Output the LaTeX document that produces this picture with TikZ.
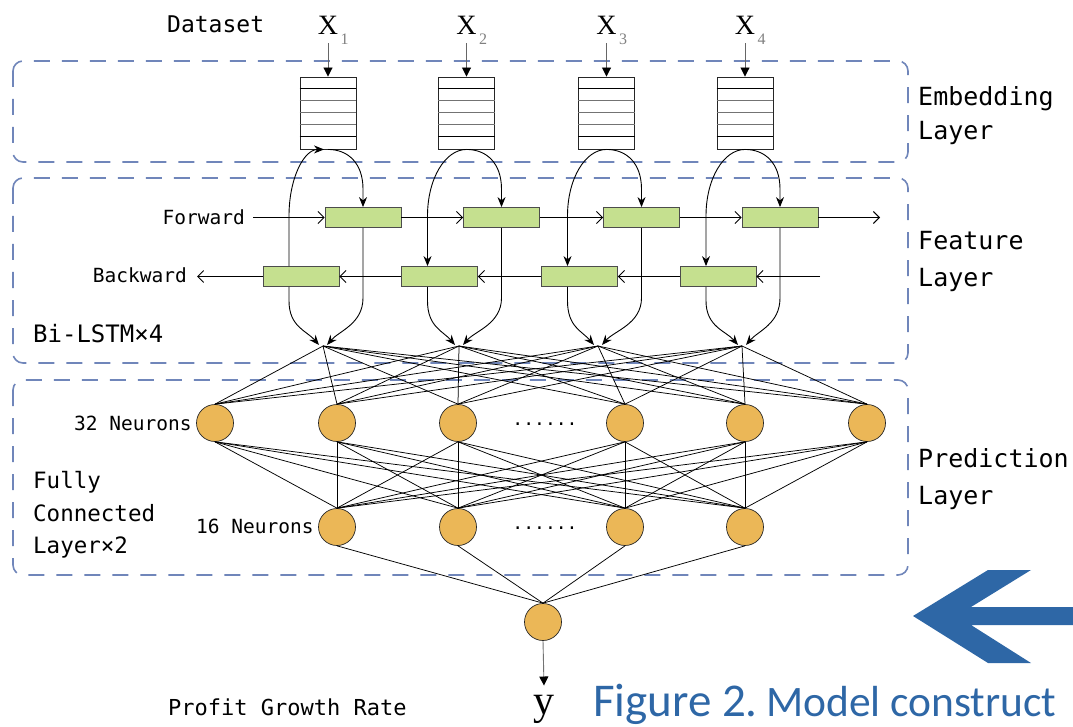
\documentclass[tikz,border=0pt]{standalone}
\usepackage{fontspec}
\setmainfont{Liberation Serif}
\newfontfamily\monolab{DejaVu Sans Mono}
\newfontfamily\capfont{Carlito}
\usetikzlibrary{arrows.meta}

\definecolor{dashblue}{RGB}{112,134,186}
\definecolor{cellgreen}{RGB}{197,224,143}
\definecolor{neuronfill}{RGB}{235,183,87}
\definecolor{capblue}{RGB}{46,103,166}
\newcommand{\fsz}[1]{\fontsize{#1}{#1}\selectfont}

\begin{document}
\begin{tikzpicture}[x=1pt,y=-1pt,
  layerbox/.style={draw=dashblue, line width=1.6pt, dash pattern=on 16pt off 12pt, rounded corners=10pt},
  embbox/.style={draw=black!85, line width=0.9pt, minimum width=56pt, minimum height=72pt, inner sep=0pt},
  cellbox/.style={draw=black!70, fill=cellgreen, line width=0.8pt, minimum width=76pt, minimum height=20pt, inner sep=0pt},
  neuron/.style={circle, draw=black!85, fill=neuronfill, line width=0.7pt, minimum size=37pt, inner sep=0pt},
  link/.style={line width=0.9pt},
  downarrow/.style={link, -{Triangle[length=9pt,width=9pt,color=black]}},
  curvearrow/.style={link, -{Stealth[length=10pt,width=8pt]}},
  flowarrow/.style={link, -{Straight Barb[length=6pt,width=12pt]}},
  fc/.style={line width=0.75pt},
  lab/.style={inner sep=0pt, font=\monolab\fsz{#1}},
  xlab/.style={inner sep=0pt, font=\fsz{28}},
  sublab/.style={inner sep=0pt, font=\fsz{16}, text=black!50}
]
\useasboundingbox (0,0) rectangle (1073,727);

% dashed layer frames
\draw[layerbox] (13,61) rectangle (908,162);
\draw[layerbox] (13,178) rectangle (908,363);
\draw[layerbox] (13,380) rectangle (908,575);

% inputs, embedding stacks, forward and backward LSTM cells
\foreach \i/\ex in {1/328,2/466.5,3/606.5,4/745}{
  \node[embbox] (e\i) at (\ex,113) {};
  \foreach \k/\col in {1/black,2/black!55,3/black!55,4/black!55,5/black}
    \draw[\col, line width=0.8pt] ([yshift=-\k*12pt]e\i.north west) -- ([yshift=-\k*12pt]e\i.north east);
  \node[cellbox] (f\i) at (\ex+35,217.5) {};
  \node[cellbox] (b\i) at (\ex-27,276.5) {};
  \node[xlab, anchor=base] (x\i) at (\ex,35) {X};
  \node[sublab, anchor=base west] (s\i) at ([xshift=2pt,yshift=-10pt]x\i.base east) {\i};
  \draw[downarrow, draw=black!60] ([yshift=-8pt]x\i.south) -- (e\i.north);
}

% merge points of the two directions
\foreach \i/\px in {1/323,2/459,3/598,4/742}
  \coordinate (p\i) at (\px,346);

% embedding to cells
\draw[curvearrow] ([xshift=-12pt]b1.north) -- ++(0,-50) .. controls +(0,-38) and +(-20,0) .. ([xshift=-4pt]e1.south);
\foreach \i in {2,3,4}
  \draw[curvearrow] (e\i.south) .. controls +(-21,0) and +(0,-38) .. ([xshift=-12pt,yshift=50pt]b\i.north) -- ([xshift=-12pt]b\i.north);
\foreach \i in {1,...,4}
  \draw[curvearrow] (e\i.south) .. controls +(20,0) and +(0,-26) .. ([yshift=18pt]f\i.north) -- (f\i.north);

% cells to merge points
\foreach \i in {1,...,4}{
  \draw[curvearrow] ([xshift=-12pt]b\i.south) -- ++(0,14) .. controls +(0,26) and +(-12,-14) .. ([xshift=-4pt,yshift=1pt]p\i);
  \draw[curvearrow] (f\i.south) -- ++(0,70) .. controls +(0,26) and +(12,-14) .. ([xshift=4pt,yshift=1pt]p\i);
}

% forward and backward chains
\node[lab=19.5, anchor=base east] (fwd) at (245,225) {Forward};
\node[lab=19.5, anchor=base east] (bwd) at (187,283) {Backward};
\coordinate (fstart) at (253,217.5);
\coordinate (fend) at (880,217.5);
\coordinate (bstart) at (820,276.5);
\coordinate (bend) at (197,276.5);
\draw[flowarrow] (fstart) -- (f1.west);
\foreach \i/\j in {1/2,2/3,3/4}
  \draw[flowarrow] (f\i.east) -- (f\j.west);
\draw[flowarrow] (f4.east) -- (fend);
\draw[flowarrow] (bstart) -- (b4.east);
\foreach \i/\j in {4/3,3/2,2/1}
  \draw[flowarrow] (b\i.west) -- (b\j.east);
\draw[flowarrow] (b1.west) -- (bend);

% fully connected layers
\foreach \i/\x in {1/215,2/337,3/458,4/625,5/745,6/867}
  \node[neuron] (a\i) at (\x,423) {};
\foreach \j/\x in {1/337,2/458,3/625,4/745}
  \node[neuron] (h\j) at (\x,527) {};
\node[neuron] (out) at (543,622) {};

\foreach \p in {1,...,4}
  \foreach \i in {1,...,6}
    \draw[fc] (p\p) -- (a\i.north);
\foreach \i in {1,...,6}
  \foreach \j in {1,...,4}
    \draw[fc] (a\i.south) -- (h\j.north);
\foreach \j in {1,...,4}
  \draw[fc] (h\j.south) -- (out.north);

\node[lab=18, anchor=base] (dots1) at (545,425) {......};
\node[lab=18, anchor=base] (dots2) at (545,529) {......};

% output
\node[inner sep=0pt, font=\fsz{42}, anchor=base] (yout) at (544,714) {y};
\draw[downarrow, draw=black!55] (out.south) -- ([yshift=9pt]yout.north);

% text labels
\node[lab=23, anchor=base west] (ds) at (167,33) {Dataset};
\node[lab=24, anchor=base west] (bil) at (33,342) {Bi-LSTM×4};
\node[lab=19.5, anchor=base west] (n32) at (74,430) {32 Neurons};
\node[lab=19.5, anchor=base west] (n16) at (196,533) {16 Neurons};
\node[lab=22.5, anchor=base west] (fc1) at (33,488) {Fully};
\node[lab=22.5, anchor=base west] (fc2) at (33,521) {Connected};
\node[lab=22.5, anchor=base west] (fc3) at (33,553) {Layer×2};
\node[lab=22, anchor=base west] (pgr) at (168,715) {Profit Growth Rate};

\node[lab=25, anchor=base west] (l1a) at (918,106) {Embedding};
\node[lab=25, anchor=base west] (l1b) at (918,140) {Layer};
\node[lab=25, anchor=base west] (l2a) at (918,250) {Feature};
\node[lab=25, anchor=base west] (l2b) at (918,287) {Layer};
\node[lab=25, anchor=base west] (l3a) at (918,467) {Prediction};
\node[lab=25, anchor=base west] (l3b) at (918,504) {Layer};

% caption and pointer arrow
\fill[capblue] (913,616) -- (988,570) -- (1031,570) -- (971,607) -- (1073,607)
  -- (1073,625) -- (971,625) -- (1031,663) -- (988,663) -- cycle;
\node[inner sep=0pt, font=\capfont\fsz{47}, text=capblue, anchor=base west] (figno) at (593,716) {Figure 2.};
\node[inner sep=0pt, font=\capfont\fsz{43.5}, text=capblue, anchor=base west] (figtitle) at (766,716) {Model construct};
\end{tikzpicture}
\end{document}
